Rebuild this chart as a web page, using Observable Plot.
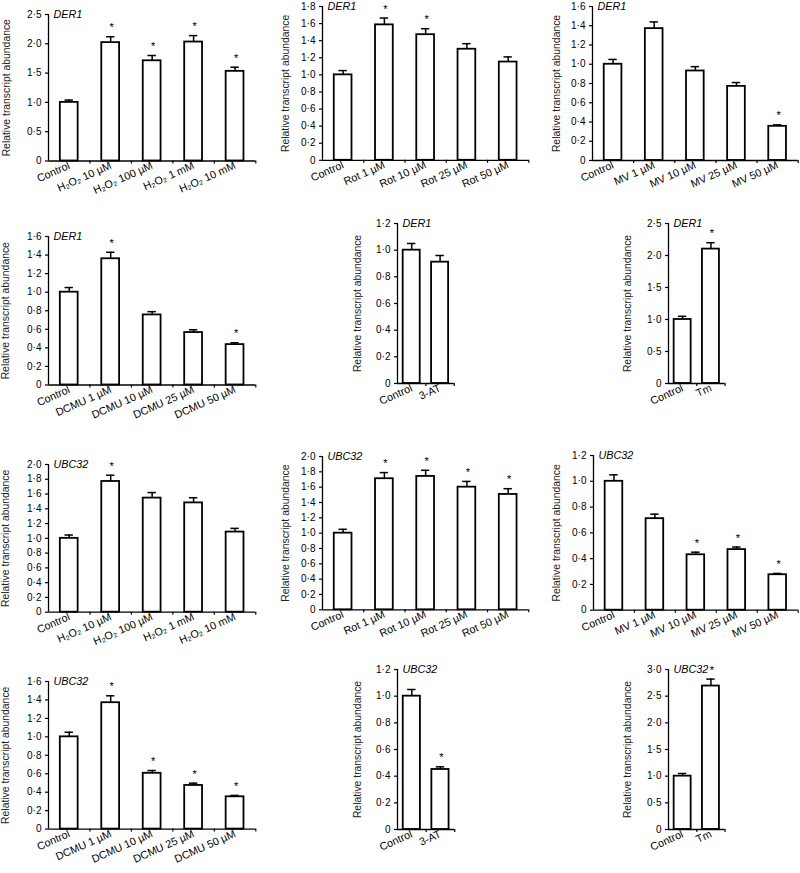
<!DOCTYPE html>
<html><head><meta charset="utf-8">
<script src="https://cdn.jsdelivr.net/npm/d3@7"></script>
<script src="https://cdn.jsdelivr.net/npm/@observablehq/plot@0.6"></script>
<style>
body{margin:0;background:#fff;}
#fig{position:relative;width:800px;height:873px;overflow:hidden;background:#fff;font-family:"Liberation Sans",Arial,sans-serif;}
#fig svg{position:absolute;overflow:visible;max-width:none;}
</style></head><body><div id="fig"></div>
<script>
// ---------- categories ----------
const h2o2Cats = ["Control", "H₂O₂ 10 µM", "H₂O₂ 100 µM", "H₂O₂ 1 mM", "H₂O₂ 10 mM"];
const rotCats  = ["Control", "Rot 1 µM", "Rot 10 µM", "Rot 25 µM", "Rot 50 µM"];
const mvCats   = ["Control", "MV 1 µM", "MV 10 µM", "MV 25 µM", "MV 50 µM"];
const dcmuCats = ["Control", "DCMU 1 µM", "DCMU 10 µM", "DCMU 25 µM", "DCMU 50 µM"];
const atCats   = ["Control", "3-AT"];
const tmCats   = ["Control", "Tm"];

// ---------- tick labels ----------
const ticks12 = [0, 0.2, 0.4, 0.6, 0.8, 1.0, 1.2];
const ticks16 = [0, 0.2, 0.4, 0.6, 0.8, 1.0, 1.2, 1.4, 1.6];
const ticks18 = [0, 0.2, 0.4, 0.6, 0.8, 1.0, 1.2, 1.4, 1.6, 1.8];
const ticks20 = [0, 0.2, 0.4, 0.6, 0.8, 1.0, 1.2, 1.4, 1.6, 1.8, 2.0];
const ticks25 = [0, 0.5, 1.0, 1.5, 2.0, 2.5];
const ticks30 = [0, 0.5, 1.0, 1.5, 2.0, 2.5, 3.0];

// ---------- DER1 ----------
const der1H2o2Vals = [1.00, 2.02, 1.71, 2.03, 1.53];
const der1H2o2Errs = [0.04, 0.10, 0.09, 0.11, 0.07];
const der1H2o2Sig  = [0, 1, 1, 1, 1];

const der1RotVals = [1.00, 1.585, 1.47, 1.30, 1.15];
const der1RotErrs = [0.05, 0.08, 0.07, 0.065, 0.06];
const der1RotSig  = [0, 1, 1, 0, 0];

const der1MvVals = [1.00, 1.37, 0.93, 0.77, 0.355];
const der1MvErrs = [0.05, 0.07, 0.045, 0.04, 0.015];
const der1MvSig  = [0, 0, 0, 0, 1];

const der1DcmuVals = [1.00, 1.36, 0.755, 0.565, 0.435];
const der1DcmuErrs = [0.05, 0.07, 0.035, 0.03, 0.02];
const der1DcmuSig  = [0, 1, 0, 0, 1];

const der1AtVals = [1.00, 0.91];
const der1AtErrs = [0.05, 0.05];
const der1AtSig  = [0, 0];

const der1TmVals = [1.00, 2.10];
const der1TmErrs = [0.05, 0.10];
const der1TmSig  = [0, 1];

// ---------- UBC32 ----------
const ubcH2o2Vals = [1.00, 1.77, 1.545, 1.48, 1.085];
const ubcH2o2Errs = [0.045, 0.085, 0.075, 0.07, 0.05];
const ubcH2o2Sig  = [0, 1, 0, 0, 0];

const ubcRotVals = [1.00, 1.71, 1.74, 1.60, 1.505];
const ubcRotErrs = [0.05, 0.08, 0.08, 0.075, 0.075];
const ubcRotSig  = [0, 1, 1, 1, 1];

const ubcMvVals = [1.00, 0.71, 0.43, 0.47, 0.275];
const ubcMvErrs = [0.05, 0.035, 0.02, 0.02, 0.01];
const ubcMvSig  = [0, 0, 1, 1, 1];

const ubcDcmuVals = [1.00, 1.37, 0.605, 0.473, 0.35];
const ubcDcmuErrs = [0.05, 0.075, 0.03, 0.025, 0.015];
const ubcDcmuSig  = [0, 1, 1, 1, 1];

const ubcAtVals = [1.00, 0.45];
const ubcAtErrs = [0.05, 0.02];
const ubcAtSig  = [0, 1];

const ubcTmVals = [1.00, 2.69];
const ubcTmErrs = [0.05, 0.13];
const ubcTmSig  = [0, 1];

const yLabel = "Relative transcript abundance";

const panels = [
  {gene: "DER1",  cats: h2o2Cats, vals: der1H2o2Vals, errs: der1H2o2Errs, sig: der1H2o2Sig, ticks: ticks25},
  {gene: "DER1",  cats: rotCats,  vals: der1RotVals,  errs: der1RotErrs,  sig: der1RotSig,  ticks: ticks18},
  {gene: "DER1",  cats: mvCats,   vals: der1MvVals,   errs: der1MvErrs,   sig: der1MvSig,   ticks: ticks16},
  {gene: "DER1",  cats: dcmuCats, vals: der1DcmuVals, errs: der1DcmuErrs, sig: der1DcmuSig, ticks: ticks16},
  {gene: "DER1",  cats: atCats,   vals: der1AtVals,   errs: der1AtErrs,   sig: der1AtSig,   ticks: ticks12},
  {gene: "DER1",  cats: tmCats,   vals: der1TmVals,   errs: der1TmErrs,   sig: der1TmSig,   ticks: ticks25},
  {gene: "UBC32", cats: h2o2Cats, vals: ubcH2o2Vals,  errs: ubcH2o2Errs,  sig: ubcH2o2Sig,  ticks: ticks20},
  {gene: "UBC32", cats: rotCats,  vals: ubcRotVals,   errs: ubcRotErrs,   sig: ubcRotSig,   ticks: ticks20},
  {gene: "UBC32", cats: mvCats,   vals: ubcMvVals,    errs: ubcMvErrs,    sig: ubcMvSig,    ticks: ticks12},
  {gene: "UBC32", cats: dcmuCats, vals: ubcDcmuVals,  errs: ubcDcmuErrs,  sig: ubcDcmuSig,  ticks: ticks16},
  {gene: "UBC32", cats: atCats,   vals: ubcAtVals,    errs: ubcAtErrs,    sig: ubcAtSig,    ticks: ticks12},
  {gene: "UBC32", cats: tmCats,   vals: ubcTmVals,    errs: ubcTmErrs,    sig: ubcTmSig,    ticks: ticks30}
];

// ---------- layout (page pixel positions of each panel's frame) ----------
const layout = [
  {ax: 47.7,  top: 13.5,  right: 255,   zero: 160,   yl: 42},
  {ax: 321.7, top: 5.5,   right: 528,   zero: 159.3, yl: 36.7},
  {ax: 592.3, top: 6,     right: 798,   zero: 160,   yl: 35.6},
  {ax: 47.7,  top: 235.5, right: 255,   zero: 384,   yl: 42.7},
  {ax: 396.7, top: 223.3, right: 453.5, zero: 383.3, yl: 39.7},
  {ax: 667.7, top: 223.3, right: 724.3, zero: 383.3, yl: 40.7},
  {ax: 47.7,  top: 464.3, right: 255,   zero: 612,   yl: 42.7},
  {ax: 321.7, top: 456,   right: 528,   zero: 609.3, yl: 36.7},
  {ax: 593.3, top: 455.3, right: 798,   zero: 610,   yl: 36.6},
  {ax: 47.7,  top: 680.7, right: 255,   zero: 828.3, yl: 42.7},
  {ax: 396.7, top: 669.3, right: 454,   zero: 829.3, yl: 39.7},
  {ax: 667.7, top: 669.3, right: 724.3, zero: 829.3, yl: 40.4}
];

const fmt = d => d === 0 ? "0" : d.toFixed(1).replace(".", "·");
const fig = document.getElementById("fig");

panels.forEach((p, k) => {
  const L = layout[k];
  const n = p.cats.length;
  const ML = 50, MR = 6, MT = 14, MB = 60;
  const plotW = L.right - L.ax, plotH = L.zero - L.top;
  const step = plotW / n;
  const halfBar = n > 2 ? 0.215 : 0.3;
  const capHalf = 4.2 / step;
  const rows = p.vals.map((v, i) => ({c: i + 0.5, v, top: v + p.errs[i], s: p.sig[i]}));
  const centers = p.cats.map((c, i) => i + 0.5);
  const bounds = p.cats.map((c, i) => i + 1);
  const yMax = p.ticks[p.ticks.length - 1];
  const chart = Plot.plot({
    width: plotW + ML + MR,
    height: plotH + MT + MB,
    marginLeft: ML, marginRight: MR, marginTop: MT, marginBottom: MB,
    style: {background: "transparent", overflow: "visible", fontFamily: "Liberation Sans, Arial, sans-serif", color: "#000"},
    x: {domain: [0, n]},
    y: {domain: [0, yMax]},
    marks: [
      Plot.rect(rows, {x1: d => d.c - halfBar, x2: d => d.c + halfBar, y1: () => 0, y2: "v", fill: "white", stroke: "black", strokeWidth: 1.8}),
      Plot.ruleX(rows, {x: "c", y1: "v", y2: "top", stroke: "black", strokeWidth: 1.5}),
      Plot.ruleY(rows, {y: "top", x1: d => d.c - capHalf, x2: d => d.c + capHalf, stroke: "black", strokeWidth: 1.5}),
      Plot.text(rows.filter(d => d.s), {x: "c", y: "top", text: () => "*", dy: -9, dx: 1, fontSize: 11, fill: "black"}),
      Plot.ruleY([0], {stroke: "black", strokeWidth: 1.3}),
      Plot.ruleX([0], {stroke: "black", strokeWidth: 1.3}),
      Plot.axisY({ticks: p.ticks, tickFormat: fmt, tickSize: 3, tickPadding: 4, fontSize: 10, label: null, strokeWidth: 1.2}),
      Plot.axisX({ticks: bounds, tickFormat: () => "", tickSize: 3, label: null, strokeWidth: 1.2}),
      Plot.axisX({ticks: centers, tickFormat: d => p.cats[Math.floor(d)], tickSize: 0, tickPadding: 4, tickRotate: -24, fontSize: 10.8, label: null}),
      Plot.text([p.gene], {frameAnchor: "top-left", text: d => d, textAnchor: "start", lineAnchor: "middle", dx: 5, fontStyle: "italic", fontSize: 10.8, fill: "black"}),
      Plot.text([yLabel], {frameAnchor: "left", text: d => d, textAnchor: "middle", lineAnchor: "middle", rotate: -90, dx: -L.yl, fontSize: 10.4, fill: "#222"})
    ]
  });
  chart.style.left = (L.ax - ML) + "px";
  chart.style.top = (L.top - MT) + "px";
  fig.appendChild(chart);
});
</script></body></html>
